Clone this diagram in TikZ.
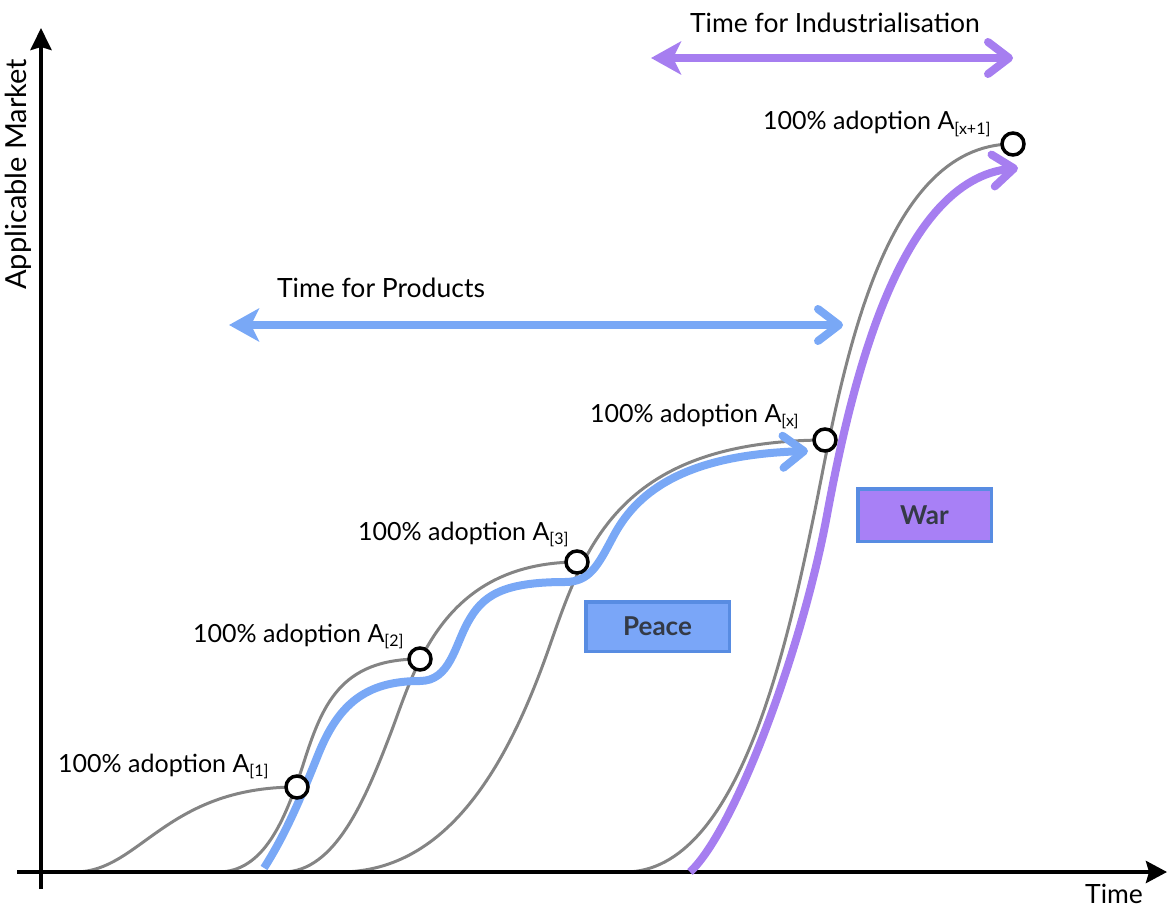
\documentclass[tikz,border=0pt]{standalone}
\usepackage{fontspec}
\setmainfont{Lato}
\usetikzlibrary{arrows.meta}
\definecolor{curvegray}{RGB}{132,132,132}
\definecolor{pblue}{RGB}{121,168,246}
\definecolor{ppurple}{RGB}{166,126,240}
\definecolor{peacefill}{RGB}{122,166,248}
\definecolor{boxborder}{RGB}{88,140,226}
\definecolor{warfill}{RGB}{168,128,246}
\definecolor{boxtext}{RGB}{52,58,70}
\newcommand{\adsub}[1]{\raisebox{-0.35ex}{\fontsize{16}{16}\selectfont #1}}
\tikzset{
  scurve/.style={draw=curvegray, line width=3pt},
  bluepath/.style={draw=pblue, line width=8pt},
  purplepath/.style={draw=ppurple, line width=8pt},
  axisline/.style={line width=4pt, draw=black},
  endcircle/.style={circle, draw=black, line width=3.5pt, fill=white, minimum size=22pt, inner sep=0pt},
  adlabel/.style={anchor=base west, inner sep=0pt, font=\fontsize{25}{30}\selectfont},
  bigtext/.style={font=\fontsize{26.5}{30}\selectfont, inner sep=0pt},
  phasebox/.style={draw=boxborder, line width=3.5pt, text=boxtext, font=\bfseries\fontsize{26}{30}\selectfont, inner sep=0pt},
  barbtip/.style={-{Straight Barb[length=21pt,width=32pt,round]}},
  twotip/.style={{Stealth[length=30pt,width=33pt,inset=8pt]}-{Straight Barb[length=21pt,width=32pt,round]}},
}
\begin{document}
\begin{tikzpicture}[x=1pt,y=-1pt]
\useasboundingbox (0,0) rectangle (1167,909);
% end points of the adoption curves
\coordinate (p1) at (297,787);
\coordinate (p2) at (420,659);
\coordinate (p3) at (577,562);
\coordinate (p4) at (825,440);
\coordinate (p5) at (1013,144);
% grey adoption S-curves
\draw[scurve] (75,872) .. controls (140,872) and (165,787) .. (p1);
\draw[scurve] (218,872) .. controls (264,872) and (285,820) .. (303,765)
  .. controls (322,705) and (340,659) .. (p2);
\draw[scurve] (283,872) .. controls (335,872) and (365,800) .. (390,735)
  .. controls (414,673) and (440,563) .. (p3);
\draw[scurve] (340,872) .. controls (450,872) and (510,760) .. (550,645)
  .. controls (585,545) and (620,441) .. (p4);
\draw[scurve] (625,872) .. controls (740,872) and (788,640) .. (815,510)
  .. controls (842,375) and (880,144) .. (p5);
% axes
\coordinate (ybot) at (41,889);
\coordinate (ytop) at (41,28);
\coordinate (xleft) at (17,872);
\coordinate (xright) at (1167,872);
\draw[axisline, -{Stealth[length=22pt,width=21pt,inset=3pt]}] (ybot) -- (ytop);
\draw[axisline, -{Stealth[length=21pt,width=22pt,inset=3pt]}] (xleft) -- (xright);
% blue peace path
\coordinate (bstart) at (264,868);
\coordinate (bend) at (808,451);
\draw[bluepath, barbtip] (bstart) .. controls (285,835) and (300,800) .. (318,755)
  .. controls (338,705) and (365,681) .. (420,681)
  .. controls (450,681) and (455,645) .. (468,622)
  .. controls (482,597) and (500,582) .. (565,582)
  .. controls (590,582) and (598,565) .. (613,537)
  .. controls (635,495) and (680,455) .. (bend);
% purple war path
\coordinate (wstart) at (690,872);
\coordinate (wend) at (1018,168);
\draw[purplepath, barbtip] (wstart) .. controls (735,830) and (802,650) .. (827,515)
  .. controls (852,380) and (900,180) .. (wend);
% time spans
\coordinate (prodL) at (229,325);
\coordinate (prodR) at (843,325);
\coordinate (indL) at (651,58);
\coordinate (indR) at (1013,58);
\draw[bluepath, twotip] (prodL) -- (prodR);
\draw[purplepath, twotip] (indL) -- (indR);
% circles
\node[endcircle] (c1) at (p1) {};
\node[endcircle] (c2) at (p2) {};
\node[endcircle] (c3) at (p3) {};
\node[endcircle] (c4) at (p4) {};
\node[endcircle] (c5) at (p5) {};
% labels
\node[adlabel] (l1) at (58,772) {100\% adoption A\adsub{[1]}};
\node[adlabel] (l2) at (193,642) {100\% adoption A\adsub{[2]}};
\node[adlabel] (l3) at (358,540) {100\% adoption A\adsub{[3]}};
\node[adlabel] (l4) at (590,422) {100\% adoption A\adsub{[x]}};
\node[adlabel] (l5) at (763,130) {100\% adoption A\adsub{[x+1]}};
\node[inner sep=0pt, font=\fontsize{29}{32}\selectfont, anchor=base west, rotate=90] (ylab) at (27,290) {Applicable Market};
\node[bigtext, anchor=base] (xlab) at (1114,903) {Time};
\node[bigtext, anchor=base] (tprod) at (381,298) {Time for Products};
\node[bigtext, anchor=base] (tind) at (835,33) {Time for Industrialisation};
% boxes
\node[phasebox, fill=peacefill, minimum width=143.5pt, minimum height=49.5pt] (peace) at (657.5,626.5) {Peace};
\node[phasebox, fill=warfill, minimum width=133.5pt, minimum height=52.5pt] (war) at (924.5,515) {War};
\end{tikzpicture}
\end{document}
